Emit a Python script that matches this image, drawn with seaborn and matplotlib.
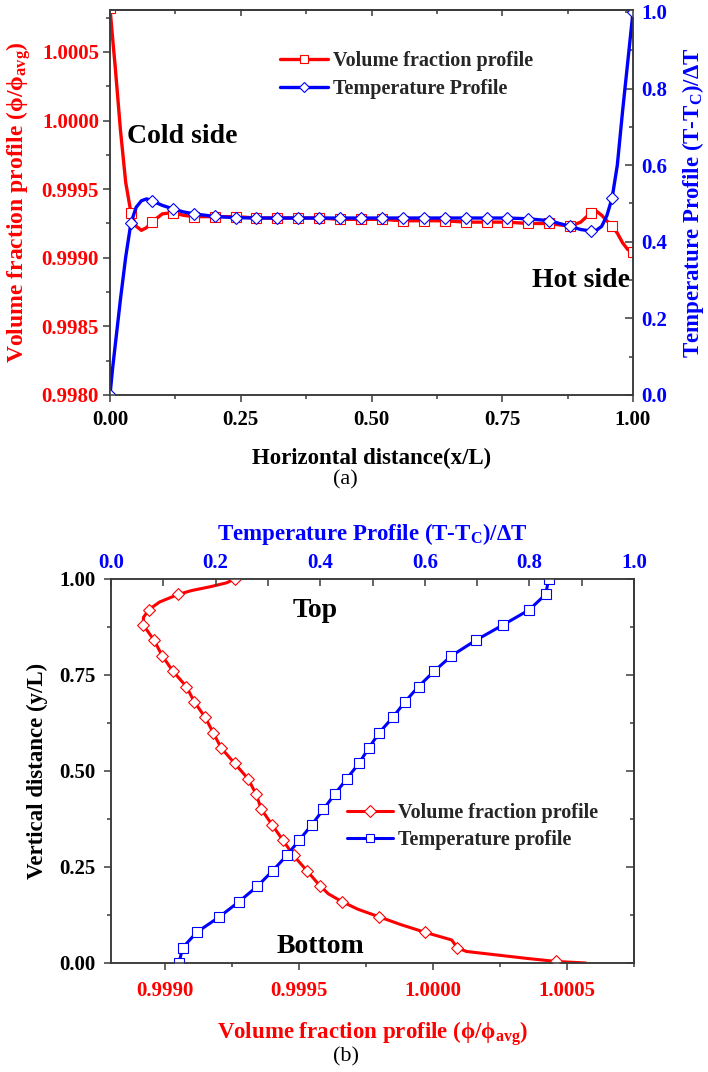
import numpy as np
import pandas as pd
import matplotlib
matplotlib.use("Agg")
import matplotlib.pyplot as plt
import seaborn as sns
from matplotlib.ticker import MultipleLocator, FormatStrFormatter
from matplotlib.lines import Line2D

# ---------------- data : panel (a) ----------------
x_a = [0.0, 0.005, 0.01, 0.015, 0.02, 0.03, 0.04, 0.05, 0.06, 0.07, 0.08, 0.10,
       0.12, 0.14, 0.16, 0.20, 0.24, 0.28, 0.32, 0.36, 0.40, 0.44, 0.48, 0.52,
       0.56, 0.60, 0.64, 0.68, 0.72, 0.76, 0.80, 0.84, 0.88, 0.90, 0.92, 0.93,
       0.94, 0.95, 0.96, 0.97, 0.98, 0.99, 1.00]
phi_a = [1.00082, 1.00060, 1.00039, 1.00016, 0.99993, 0.99955, 0.99933, 0.99923,
         0.99920, 0.99922, 0.99926, 0.99932, 0.99933, 0.99931, 0.99930, 0.99930,
         0.99930, 0.99929, 0.99929, 0.99929, 0.99929, 0.99928, 0.99928, 0.99928,
         0.99927, 0.99927, 0.99927, 0.99926, 0.99926, 0.99926, 0.99925, 0.99925,
         0.99923, 0.99926, 0.99933, 0.99934, 0.99931, 0.99927, 0.99923, 0.99918,
         0.99911, 0.99906, 0.99904]
temp_a = [0.0, 0.07, 0.13, 0.19, 0.25, 0.36, 0.449, 0.490, 0.507, 0.512, 0.507,
          0.495, 0.486, 0.478, 0.473, 0.466, 0.463, 0.462, 0.462, 0.462, 0.462,
          0.462, 0.462, 0.462, 0.462, 0.462, 0.462, 0.462, 0.462, 0.462, 0.460,
          0.455, 0.440, 0.432, 0.428, 0.430, 0.440, 0.468, 0.514, 0.600, 0.740,
          0.870, 1.0]

# ---------------- data : panel (b) ----------------
# volume fraction line (vertical position, value)
y_b_line = [1.00, 0.99, 0.98, 0.97, 0.96, 0.94, 0.92, 0.90, 0.88, 0.84, 0.80,
            0.76, 0.72, 0.68, 0.64, 0.60, 0.56, 0.52, 0.48, 0.44, 0.40, 0.36,
            0.32, 0.28, 0.24, 0.20, 0.18, 0.16, 0.14, 0.12, 0.10, 0.08, 0.06,
            0.05, 0.04, 0.03, 0.02, 0.012, 0.004, 0.0]
phi_b_line = [0.99926, 0.99923, 0.99917, 0.99910, 0.99905, 0.99898, 0.99894,
              0.99892, 0.99892, 0.99896, 0.99899, 0.99903, 0.99908, 0.99911,
              0.99915, 0.99918, 0.99921, 0.99926, 0.99931, 0.99934, 0.99936,
              0.99940, 0.99944, 0.99948, 0.99953, 0.99958, 0.99961, 0.99966,
              0.99972, 0.99980, 0.99988, 0.99997, 1.00007, 1.00008, 1.00009,
              1.000125, 1.00025, 1.00035, 1.00046, 1.00057]
# volume fraction markers
y_b_mark = [1.00, 0.96, 0.92, 0.88, 0.84, 0.80, 0.76, 0.72, 0.68, 0.64, 0.60,
            0.56, 0.52, 0.48, 0.44, 0.40, 0.36, 0.32, 0.28, 0.24, 0.20, 0.16,
            0.12, 0.08, 0.04, 0.004]
phi_b_mark = [0.99926, 0.99905, 0.99894, 0.99892, 0.99896, 0.99899, 0.99903,
              0.99908, 0.99911, 0.99915, 0.99918, 0.99921, 0.99926, 0.99931,
              0.99934, 0.99936, 0.99940, 0.99944, 0.99948, 0.99953, 0.99958,
              0.99966, 0.99980, 0.99997, 1.00009, 1.00046]
# temperature profile
y_b_temp = [0.00, 0.04, 0.08, 0.12, 0.16, 0.20, 0.24, 0.28, 0.32, 0.36, 0.40,
            0.44, 0.48, 0.52, 0.56, 0.60, 0.64, 0.68, 0.72, 0.76, 0.80, 0.84,
            0.88, 0.92, 0.96, 1.00]
temp_b = [0.130, 0.137, 0.164, 0.207, 0.245, 0.280, 0.309, 0.336, 0.360, 0.384,
          0.406, 0.428, 0.451, 0.474, 0.493, 0.513, 0.539, 0.562, 0.588, 0.618,
          0.651, 0.697, 0.749, 0.800, 0.831, 0.837]

# ---------------- style ----------------
sns.set_theme(style="white")
plt.rcParams['font.family'] = ['Liberation Serif', 'DejaVu Serif']
plt.rcParams['font.weight'] = 'bold'
plt.rcParams['axes.labelweight'] = 'bold'
plt.rcParams['mathtext.fontset'] = 'custom'
plt.rcParams['mathtext.rm'] = 'Liberation Serif:bold'
plt.rcParams['mathtext.it'] = 'Liberation Serif:bold'
plt.rcParams['mathtext.bf'] = 'Liberation Serif:bold'

RED = '#ff0000'
BLUE = '#0000ff'
SPINE = '#3a3a3a'
TICK_FS = 15
LAB_FS = 16.5
LEG_FS = 14.5
ANN_FS = 20

W, H = 708, 1072
fig = plt.figure(figsize=(W / 100, H / 100), dpi=100)


def style_spines(ax):
    for s in ax.spines.values():
        s.set_color(SPINE)
        s.set_linewidth(1.1)


# ================= panel (a) =================
axA = fig.add_axes([110 / W, 1 - 395 / H, 523 / W, 385 / H])
axA2 = axA.twinx()

xa = np.array(x_a)
mark_a = list(np.isclose(np.round(xa / 0.04) * 0.04, xa, atol=1e-6))

sns.lineplot(x=x_a, y=phi_a, ax=axA, color=RED, linewidth=2.4, marker='s',
             markersize=7, mfc='white', mec=RED, mew=0.8, markevery=mark_a,
             estimator=None, sort=False, legend=False)
sns.lineplot(x=x_a, y=temp_a, ax=axA2, color=BLUE, linewidth=2.4, marker='D',
             markersize=6, mfc='white', mec=BLUE, mew=0.8, markevery=mark_a,
             estimator=None, sort=False, legend=False)

axA.set_xlim(0, 1.0)
axA.set_ylim(0.998, 1.000806)
axA2.set_ylim(0, 1.005)

axA.xaxis.set_major_locator(MultipleLocator(0.25))
axA.xaxis.set_minor_locator(MultipleLocator(0.125))
axA.xaxis.set_major_formatter(FormatStrFormatter('%.2f'))
axA.yaxis.set_major_locator(MultipleLocator(0.0005))
axA.yaxis.set_minor_locator(MultipleLocator(0.00025))
axA.yaxis.set_major_formatter(FormatStrFormatter('%.4f'))
axA2.yaxis.set_major_locator(MultipleLocator(0.2))
axA2.yaxis.set_minor_locator(MultipleLocator(0.1))
axA2.yaxis.set_major_formatter(FormatStrFormatter('%.1f'))

axA.tick_params(axis='x', which='both', direction='out', bottom=True, top=False,
                colors=SPINE, labelcolor='black', labelsize=TICK_FS, pad=6)
axA.tick_params(axis='y', which='both', direction='out', left=True, right=False,
                colors=SPINE, labelcolor=RED, labelsize=TICK_FS, pad=3)
axA.tick_params(which='major', length=5, width=1.1)
axA.tick_params(which='minor', length=3, width=1.1)
axA2.tick_params(axis='y', which='both', direction='in', right=True, left=False,
                 colors=SPINE, labelcolor=BLUE, labelsize=TICK_FS, pad=6)
axA2.tick_params(which='major', length=6, width=1.1)
axA2.tick_params(which='minor', length=3, width=1.1)

topA = axA.secondary_xaxis('top')
topA.xaxis.set_major_locator(MultipleLocator(0.25))
topA.xaxis.set_minor_locator(MultipleLocator(0.125))
topA.tick_params(axis='x', which='both', direction='in', labeltop=False,
                 colors=SPINE)
topA.tick_params(which='major', length=4, width=1.1)
topA.tick_params(which='minor', length=3, width=1.1)

for lab in axA.get_xticklabels() + axA.get_yticklabels() + axA2.get_yticklabels():
    lab.set_fontweight('bold')

axA.set_xlabel('Horizontal distance(x/L)', fontsize=LAB_FS, fontweight='bold',
               color='black', labelpad=13)
axA.set_ylabel('Volume fraction profile (ϕ/ϕ$_{avg}$)', fontsize=LAB_FS + 0.5,
               fontweight='bold', color=RED, labelpad=6)
axA2.set_ylabel('Temperature Profile (T-T$_C$)/ΔT', fontsize=LAB_FS,
                fontweight='bold', color=BLUE, labelpad=9)

for ax in (axA, axA2):
    style_spines(ax)
style_spines(topA)

axA.text(0.0325, 0.654, 'Cold side', transform=axA.transAxes, fontsize=ANN_FS,
         fontweight='bold', ha='left', va='baseline', color='black')
axA.text(0.994, 0.281, 'Hot side', transform=axA.transAxes, fontsize=ANN_FS,
         fontweight='bold', ha='right', va='baseline', color='black')

hA = [Line2D([], [], color=RED, lw=2.4, marker='s', ms=6, mfc='white', mec=RED, mew=0.8),
      Line2D([], [], color=BLUE, lw=2.4, marker='D', ms=5, mfc='white', mec=BLUE, mew=0.8)]
legA = axA2.legend(hA, ['Volume fraction profile', 'Temperature Profile'],
                   loc='upper left', bbox_to_anchor=(0.325, 0.894), frameon=False,
                   borderpad=0, borderaxespad=0, handlelength=2.4,
                   handletextpad=0.25, labelspacing=0.4,
                   prop={'family': ['Liberation Serif'], 'weight': 'bold', 'size': LEG_FS})

fig.text(345 / W, 1 - 480 / H, '(a)', ha='center', va='center', fontsize=16,
         fontweight='normal', color='black')

# ================= panel (b) =================
axB = fig.add_axes([111 / W, 1 - 963 / H, 523 / W, 384 / H])
axBt = axB.twiny()

sns.lineplot(x=phi_b_line, y=y_b_line, ax=axB, color=RED, linewidth=2.2,
             estimator=None, sort=False, legend=False)
sns.scatterplot(x=phi_b_mark, y=y_b_mark, ax=axB, marker='D', s=36,
                facecolor='white', edgecolor=RED, linewidth=0.8, zorder=3,
                legend=False)
sns.lineplot(x=temp_b, y=y_b_temp, ax=axBt, color=BLUE, linewidth=2.2,
             marker='s', markersize=6.5, mfc='white', mec=BLUE, mew=0.8,
             estimator=None, sort=False, legend=False)

axB.set_ylim(0, 1.0)
axB.set_xlim(0.998799, 1.00075)
axBt.set_xlim(0, 1.0)

axB.yaxis.set_major_locator(MultipleLocator(0.25))
axB.yaxis.set_minor_locator(MultipleLocator(0.125))
axB.yaxis.set_major_formatter(FormatStrFormatter('%.2f'))
axB.xaxis.set_major_locator(MultipleLocator(0.0005))
axB.xaxis.set_minor_locator(MultipleLocator(0.00025))
axB.xaxis.set_major_formatter(FormatStrFormatter('%.4f'))
axBt.xaxis.set_major_locator(MultipleLocator(0.2))
axBt.xaxis.set_minor_locator(MultipleLocator(0.1))
axBt.xaxis.set_major_formatter(FormatStrFormatter('%.1f'))

axB.tick_params(axis='x', which='both', direction='out', bottom=True, top=False,
                colors=SPINE, labelcolor=RED, labelsize=TICK_FS, pad=8)
axB.tick_params(axis='y', which='both', direction='out', left=True, right=False,
                colors=SPINE, labelcolor='black', labelsize=TICK_FS, pad=6)
axB.tick_params(which='major', length=5, width=1.1)
axB.tick_params(which='minor', length=3, width=1.1)
axBt.tick_params(axis='x', which='both', direction='in', top=True, bottom=False,
                 colors=SPINE, labelcolor=BLUE, labelsize=TICK_FS, pad=4.5)
axBt.tick_params(which='both', length=5, width=1.1)

rightB = axB.secondary_yaxis('right')
rightB.yaxis.set_major_locator(MultipleLocator(0.25))
rightB.yaxis.set_minor_locator(MultipleLocator(0.125))
rightB.tick_params(axis='y', which='both', direction='in', labelright=False,
                   colors=SPINE)
rightB.tick_params(which='major', length=6, width=1.1)
rightB.tick_params(which='minor', length=3, width=1.1)

for lab in axB.get_xticklabels() + axB.get_yticklabels() + axBt.get_xticklabels():
    lab.set_fontweight('bold')

axB.set_xlabel('Volume fraction profile (ϕ/ϕ$_{avg}$)', fontsize=LAB_FS,
               fontweight='bold', color=RED, labelpad=13)
axB.set_ylabel('Vertical distance (y/L)', fontsize=LAB_FS, fontweight='bold',
               color='black', labelpad=8)
axBt.set_xlabel('Temperature Profile (T-T$_C$)/ΔT', fontsize=LAB_FS,
                fontweight='bold', color=BLUE, labelpad=9)

for ax in (axB, axBt):
    style_spines(ax)
style_spines(rightB)

axB.text(0.348, 0.902, 'Top', transform=axB.transAxes, fontsize=ANN_FS,
         fontweight='bold', ha='left', va='baseline', color='black')
axB.text(0.317, 0.027, 'Bottom', transform=axB.transAxes, fontsize=ANN_FS,
         fontweight='bold', ha='left', va='baseline', color='black')

hB = [Line2D([], [], color=RED, lw=2.2, marker='D', ms=6, mfc='white', mec=RED, mew=0.8),
      Line2D([], [], color=BLUE, lw=2.2, marker='s', ms=6, mfc='white', mec=BLUE, mew=0.8)]
legB = axBt.legend(hB, ['Volume fraction profile', 'Temperature profile'],
                   loc='upper left', bbox_to_anchor=(0.451, 0.417), frameon=False,
                   borderpad=0, borderaxespad=0, handlelength=2.3,
                   handletextpad=0.25, labelspacing=0.35,
                   prop={'family': ['Liberation Serif'], 'weight': 'bold', 'size': LEG_FS})

fig.text(346 / W, 1 - 1057 / H, '(b)', ha='center', va='center', fontsize=16,
         fontweight='normal', color='black')

fig.savefig('out.png', dpi=100)
